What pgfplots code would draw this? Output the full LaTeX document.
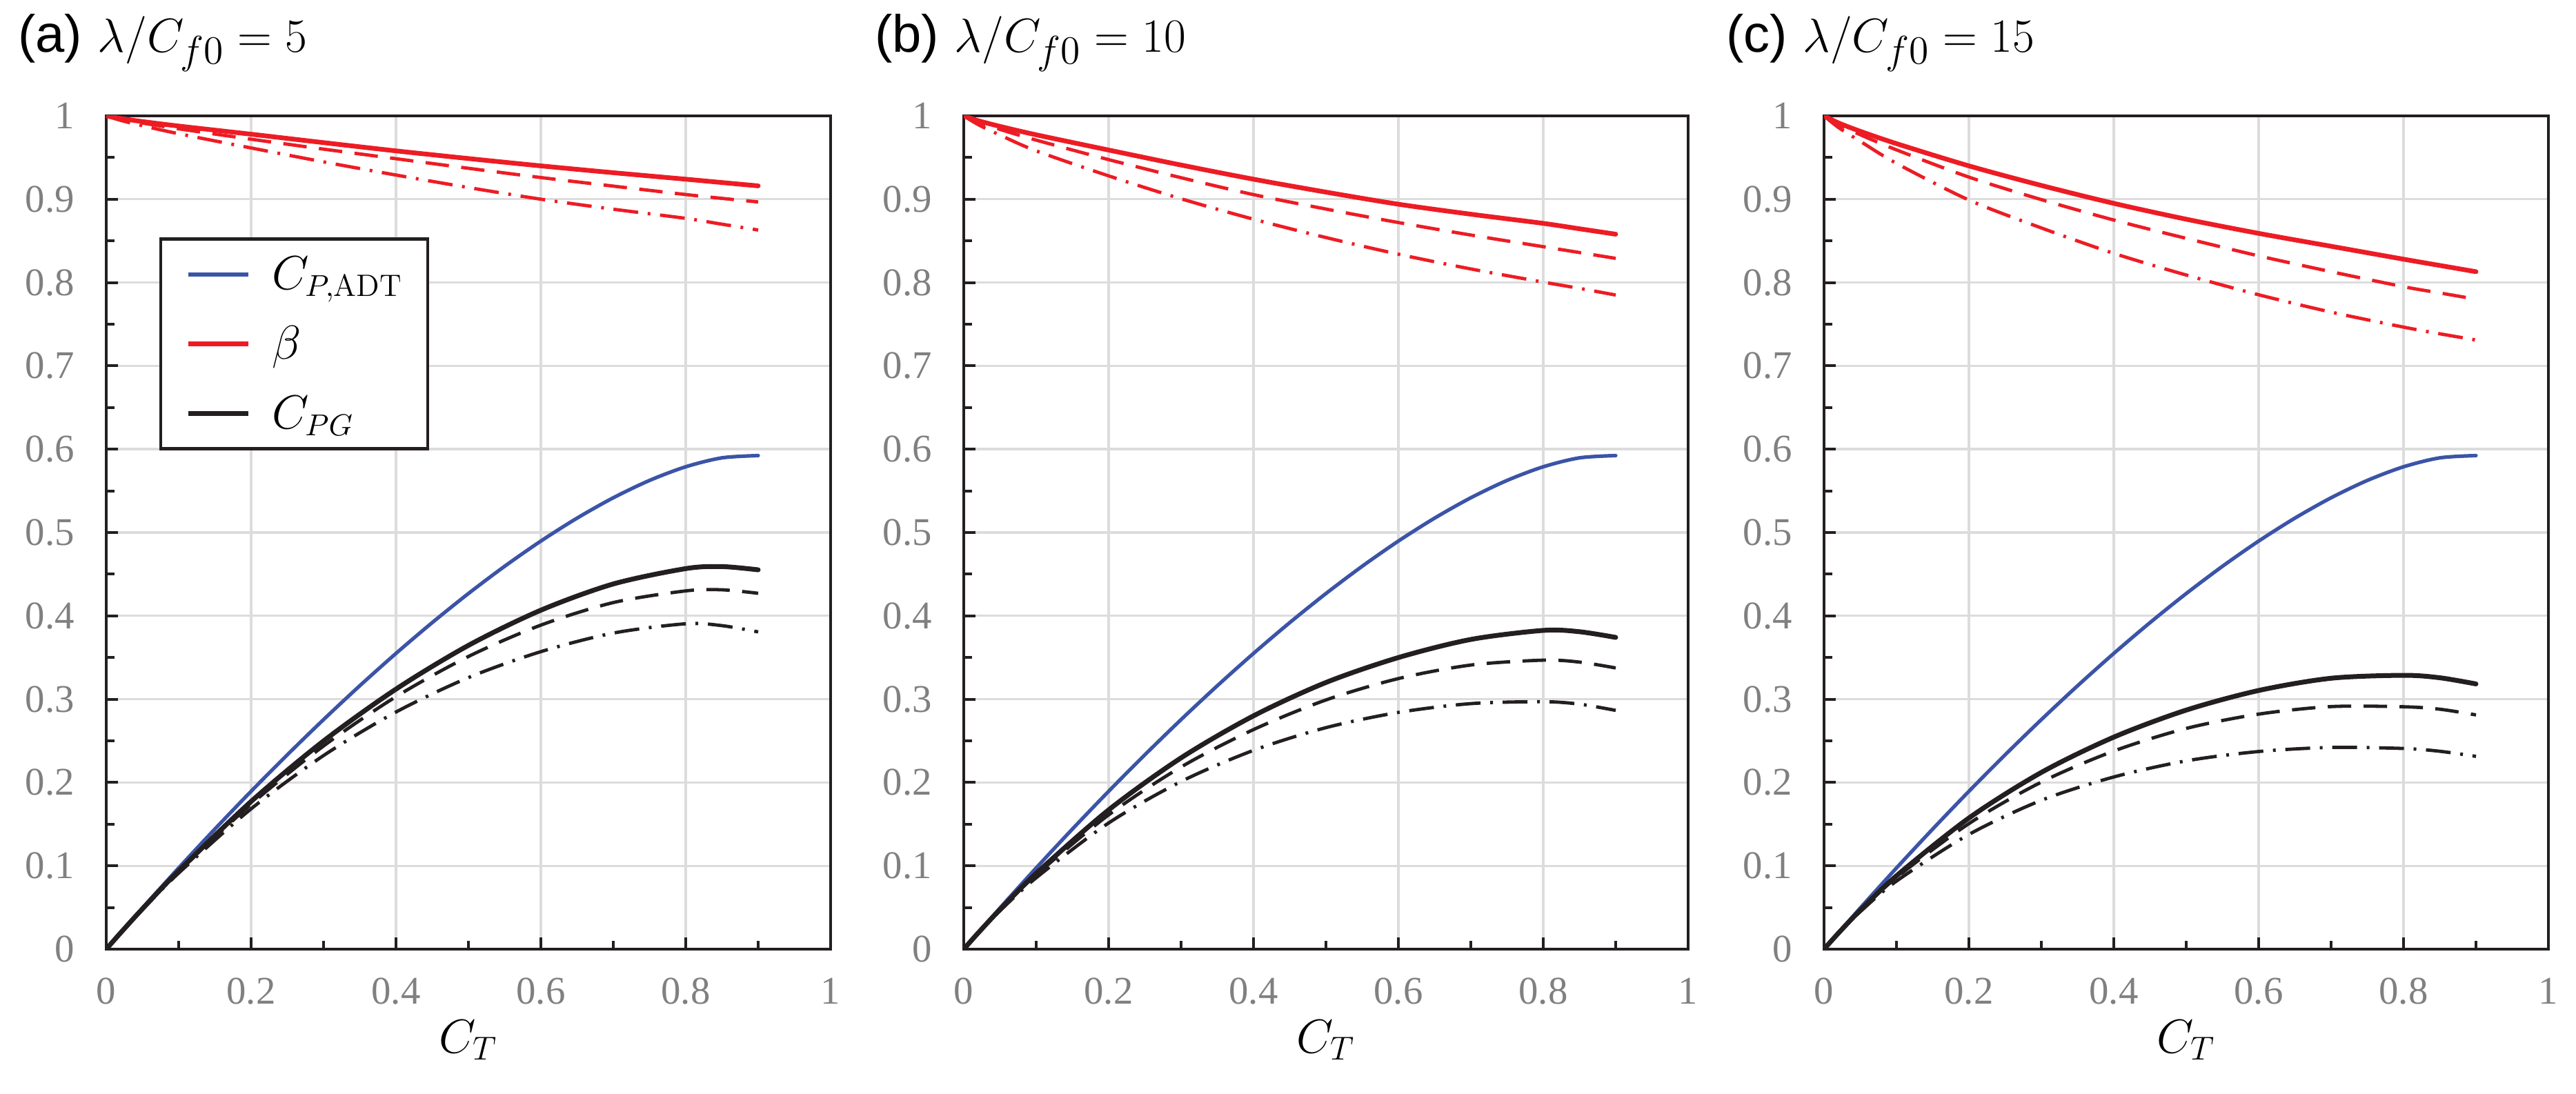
\documentclass[border=0pt]{standalone}
\usepackage{fontspec}
\usepackage{pgfplots}
\usepackage{pgfplotstable}
\pgfplotsset{compat=1.18}
\newfontfamily\arial{Liberation Sans}
\newfontfamily\tnr{Liberation Serif}
\definecolor{cred}{RGB}{237,28,36}
\definecolor{cblue}{RGB}{59,84,167}
\definecolor{cblack}{RGB}{35,31,32}
\definecolor{cgrid}{RGB}{220,220,220}
\definecolor{ctick}{RGB}{128,128,128}

% C_P,ADT (actuator disc)
\pgfplotstableread{
x cp
0 0
0.05 0.049367
0.1 0.097434
0.15 0.144146
0.2 0.189443
0.25 0.233253
0.3 0.275499
0.35 0.316090
0.4 0.354919
0.45 0.391865
0.5 0.426777
0.55 0.459476
0.6 0.489737
0.65 0.517273
0.7 0.541703
0.75 0.5625
0.8 0.578885
0.85 0.589602
0.9 0.592302
}\cpadt

% beta: s = solid, d = dashed, c = dash-dot
\pgfplotstableread{
x as ad ac bs bd bc cs cd cc
0 1 1 1 1 1 1 1 1 1
0.02 0.9969 0.9960 0.9946 0.9942 0.9926 0.9895 0.9915 0.9896 0.986
0.05 0.9932 0.9914 0.9882 0.9874 0.9838 0.977 0.9815 0.9774 0.9695
0.1 0.9878 0.9845 0.9786 0.9773 0.9709 0.958 0.9667 0.9592 0.943
0.2 0.978 0.972 0.9615 0.959 0.9475 0.928 0.940 0.9265 0.899
0.3 0.9679 0.9601 0.9448 0.941 0.9258 0.9005 0.9165 0.8995 0.8655
0.4 0.958 0.9486 0.929 0.924 0.9055 0.876 0.895 0.875 0.835
0.5 0.9488 0.9371 0.914 0.9085 0.8882 0.854 0.876 0.853 0.809
0.6 0.940 0.926 0.900 0.894 0.872 0.834 0.859 0.832 0.7853
0.7 0.9318 0.9157 0.888 0.882 0.857 0.8163 0.8435 0.813 0.7645
0.8 0.924 0.9056 0.877 0.871 0.843 0.8005 0.828 0.795 0.7465
0.85 0.920 0.901 0.870 0.8645 0.836 0.793 0.8205 0.7875 0.7385
0.9 0.916 0.8967 0.863 0.858 0.829 0.785 0.813 0.780 0.731
}\betatab

% C_PG
\pgfplotstableread{
x as ad ac bs bd bc cs cd cc
0 0 0 0 0 0 0 0 0 0
0.02 0.01972 0.01966 0.01958 0.01956 0.01946 0.01928 0.01940 0.01929 0.01908
0.05 0.04837 0.04811 0.04764 0.04753 0.04701 0.04604 0.04668 0.04610 0.04499
0.1 0.09391 0.09297 0.09131 0.09094 0.08917 0.08566 0.08802 0.08598 0.08170
0.2 0.17721 0.17397 0.16839 0.16708 0.16114 0.15140 0.15735 0.15066 0.13764
0.3 0.24981 0.24382 0.23235 0.22956 0.21861 0.20117 0.21209 0.20051 0.17862
0.4 0.31205 0.30296 0.28456 0.27999 0.26351 0.23858 0.25445 0.23777 0.20663
0.5 0.36453 0.35121 0.32587 0.32002 0.29904 0.26581 0.28689 0.26488 0.22597
0.6 0.40677 0.38886 0.35702 0.34993 0.32472 0.28410 0.31042 0.28206 0.23718
0.7 0.43826 0.41593 0.37931 0.37168 0.34096 0.29465 0.32510 0.29109 0.24204
0.8 0.45668 0.42994 0.39048 0.38252 0.34680 0.29695 0.32861 0.29087 0.24082
0.85 0.45911 0.43125 0.38825 0.38094 0.34449 0.29402 0.32568 0.28794 0.23747
0.9 0.45523 0.42705 0.38069 0.37411 0.33745 0.28652 0.31828 0.28108 0.23136
}\cpgtab

\pgfplotsset{
  myax/.style={
    scale only axis, width=262.5pt, height=302pt,
    xmin=0, xmax=1, ymin=0, ymax=1,
    xtick={0,0.2,0.4,0.6,0.8,1},
    ytick={0,0.1,0.2,0.3,0.4,0.5,0.6,0.7,0.8,0.9,1},
    minor x tick num=1, minor y tick num=1,
    xtick pos=bottom, ytick pos=left, tick align=inside,
    major tick length=4.3pt, minor tick length=3.1pt,
    every tick/.style={cblack, line width=1pt},
    axis line style={line width=1.1pt, cblack},
    grid=major, major grid style={draw=cgrid, line width=0.85pt},
    /pgf/number format/assume math mode=true,
    ticklabel style={font=\tnr\fontsize{14.2}{17}\selectfont, text=ctick},
    yticklabel style={xshift=-8pt},
    xticklabel style={yshift=-7pt},
    xlabel={$C_T$},
    xlabel style={font=\fontsize{17}{20}\selectfont, at={(axis description cs:0.5,0)}, anchor=center, yshift=-33pt},
    title style={font=\fontsize{19}{23}\selectfont, at={(axis description cs:0,1)}, anchor=west, yshift=20.5pt},
    every axis plot/.append style={smooth, line join=round},
  },
  sol/.style={line width=#1, line cap=round},
  das/.style={line width=#1, dash pattern=on 8.5pt off 4.5pt},
  dad/.style={line width=#1, dash pattern=on 9pt off 3.5pt on 1pt off 3.5pt},
}

\begin{document}
\begin{tikzpicture}
\path[use as bounding box] (-38.5pt,-52.25pt) rectangle (895pt,344pt);

% ---------- (a)
\begin{axis}[myax, at={(0,0)},
  title={{\arial (a)} $\lambda/C_{f0}=5$}, title style={xshift=-35.5pt},
  legend style={at={(axis cs:0.0732,0.854)}, anchor=north west, draw=cblack, line width=1.1pt, fill=white,
    inner xsep=9pt, inner ysep=7.25pt, row sep=14.25pt, column sep=7.75pt,
    font=\fontsize{16}{19}\selectfont,
    nodes={inner sep=0pt, text height=11pt, text depth=0pt}},
  legend cell align=left,
  legend image code/.code={\draw[#1] (0pt,0pt) -- (21.75pt,0pt);},
]
\addlegendimage{cblue, line width=1.5pt}
\addlegendentry{$C_{P,\mathrm{ADT}}$}
\addlegendimage{cred, line width=1.7pt}
\addlegendentry{$\beta$}
\addlegendimage{cblack, line width=1.75pt}
\addlegendentry{$C_{PG}$}
\addplot[forget plot, cred, sol=1.7pt] table[x=x, y=as] {\betatab};
\addplot[forget plot, cred, das=1.2pt] table[x=x, y=ad] {\betatab};
\addplot[forget plot, cred, dad=1.2pt] table[x=x, y=ac] {\betatab};
\addplot[forget plot, cblue, sol=1.3pt] table[x=x, y=cp] {\cpadt};
\addplot[forget plot, cblack, sol=1.75pt] table[x=x, y=as] {\cpgtab};
\addplot[forget plot, cblack, das=1.2pt] table[x=x, y=ad] {\cpgtab};
\addplot[forget plot, cblack, dad=1.2pt] table[x=x, y=ac] {\cpgtab};
\end{axis}

% ---------- (b)
\begin{axis}[myax, at={(310.75pt,0)},
  title={{\arial (b)} $\lambda/C_{f0}=10$}, title style={xshift=-35.75pt}]
\addplot[cred, sol=1.7pt] table[x=x, y=bs] {\betatab};
\addplot[cred, das=1.2pt] table[x=x, y=bd] {\betatab};
\addplot[cred, dad=1.2pt] table[x=x, y=bc] {\betatab};
\addplot[cblue, sol=1.3pt] table[x=x, y=cp] {\cpadt};
\addplot[cblack, sol=1.75pt] table[x=x, y=bs] {\cpgtab};
\addplot[cblack, das=1.2pt] table[x=x, y=bd] {\cpgtab};
\addplot[cblack, dad=1.2pt] table[x=x, y=bc] {\cpgtab};
\end{axis}

% ---------- (c)
\begin{axis}[myax, at={(622.5pt,0)},
  title={{\arial (c)} $\lambda/C_{f0}=15$}, title style={xshift=-39pt}]
\addplot[cred, sol=1.7pt] table[x=x, y=cs] {\betatab};
\addplot[cred, das=1.2pt] table[x=x, y=cd] {\betatab};
\addplot[cred, dad=1.2pt] table[x=x, y=cc] {\betatab};
\addplot[cblue, sol=1.3pt] table[x=x, y=cp] {\cpadt};
\addplot[cblack, sol=1.75pt] table[x=x, y=cs] {\cpgtab};
\addplot[cblack, das=1.2pt] table[x=x, y=cd] {\cpgtab};
\addplot[cblack, dad=1.2pt] table[x=x, y=cc] {\cpgtab};
\end{axis}
\end{tikzpicture}
\end{document}
